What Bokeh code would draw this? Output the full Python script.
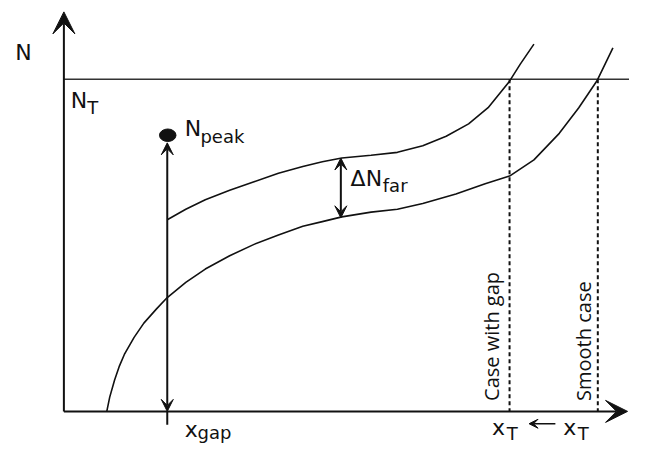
import numpy as np
from bokeh.plotting import figure
from bokeh.models import Range1d, Arrow, VeeHead
from bokeh.embed import file_html
from bokeh.resources import INLINE
from bokeh.core.properties import value

# ---- data (in picture units; y grows downward) ----
origin_x, origin_y = 65, 433
y_axis_tip = 12
x_axis_tip = 643
N_T_level = 83
x_gap_pos = 171
N_peak_level = 142
x_T_gap = 522
x_T_smooth = 612.5
far_x = 349
far_top, far_bottom = 166, 229

gap_curve_x = [171, 190, 210, 235, 260, 285, 310, 330, 350, 380, 407, 433, 457, 480, 500, 522, 533, 547]
gap_curve_y = [231, 220, 210, 200, 191, 182, 175, 170, 166, 163, 160, 153, 143, 130, 113, 85, 67, 46]

smooth_curve_x = [109, 112, 117, 122, 127, 137, 147, 160, 171, 190, 210, 235, 260, 285, 310, 330, 350,
                  380, 407, 433, 467, 497, 522, 547, 573, 593, 612, 628]
smooth_curve_y = [433, 418, 400, 385, 373, 355, 340, 325, 313, 297, 283, 269, 257, 247, 238, 233, 228,
                  223, 220, 214, 204, 193, 185, 168, 140, 113, 84, 50]

# text anchors (baselines)
main_text = ["N", "N", "N", "\u0394N", "x", "x", "x"]
main_x = [15, 72, 189, 359, 189, 504, 577]
main_y = [55, 105, 135, 188, 452, 450, 450]
sub_text = ["T", "peak", "far", "gap", "T", "T"]
sub_x = [89, 205, 392, 202, 519, 592]
sub_y = [113, 143, 195, 455, 456, 456]
side_text = ["Case with gap", "Smooth case"]
side_x = [503, 598]
side_y = [422, 422]

# ---- figure ----
p = figure(width=629, height=446, output_backend="svg", toolbar_location=None,
           x_range=Range1d(0, 645), y_range=Range1d(470, 0), min_border=0,
           x_axis_type=None, y_axis_type=None)
p.grid.visible = False
p.outline_line_color = None
p.background_fill_color = "white"

ink = "#111111"

# axes with arrow heads
p.add_layout(Arrow(end=VeeHead(size=22, fill_color=ink, line_color=ink),
                   x_start=origin_x, y_start=origin_y, x_end=origin_x, y_end=y_axis_tip,
                   line_width=2, line_color=ink))
p.add_layout(Arrow(end=VeeHead(size=22, fill_color=ink, line_color=ink),
                   x_start=origin_x, y_start=origin_y, x_end=x_axis_tip, y_end=origin_y,
                   line_width=2, line_color=ink))

# N_T level
p.segment(x0=[origin_x], y0=[N_T_level], x1=[645], y1=[N_T_level], line_width=1.6, line_color="#333333")

# curves
p.line(gap_curve_x, gap_curve_y, line_width=1.6, line_color=ink)
p.line(smooth_curve_x, smooth_curve_y, line_width=1.6, line_color=ink)

# dashed x_T lines
p.segment(x0=[x_T_gap, x_T_smooth], y0=[N_T_level, N_T_level], x1=[x_T_gap, x_T_smooth],
          y1=[origin_y, origin_y], line_width=2, line_color=ink, line_dash="4 3")

# x_gap double arrow and tick
p.segment(x0=[x_gap_pos], y0=[origin_y], x1=[x_gap_pos], y1=[447], line_width=2, line_color=ink)
p.add_layout(Arrow(start=VeeHead(size=12, fill_color=ink, line_color=ink),
                   end=VeeHead(size=12, fill_color=ink, line_color=ink),
                   x_start=x_gap_pos, y_start=origin_y, x_end=x_gap_pos, y_end=150,
                   line_width=2, line_color=ink))
p.ellipse(x=[x_gap_pos + 0.5], y=[N_peak_level], width=16.5, height=12.5,
          width_units="screen", height_units="screen", fill_color=ink, line_color=ink)

# delta N_far arrow
p.add_layout(Arrow(start=VeeHead(size=12, fill_color=ink, line_color=ink),
                   end=VeeHead(size=12, fill_color=ink, line_color=ink),
                   x_start=far_x, y_start=far_bottom, x_end=far_x, y_end=far_top,
                   line_width=2, line_color=ink))

# small arrow between x_T labels
p.add_layout(Arrow(end=VeeHead(size=9, fill_color=ink, line_color=ink),
                   x_start=569, y_start=446, x_end=542, y_end=446,
                   line_width=1.5, line_color=ink))

# texts
p.text(x=main_x, y=main_y, text=main_text, text_font=value("DejaVu Sans"),
       text_font_size="22px", text_color=ink, text_baseline="alphabetic", text_align="left")
p.text(x=sub_x, y=sub_y, text=sub_text, text_font=value("DejaVu Sans"),
       text_font_size="18px", text_color=ink, text_baseline="alphabetic", text_align="left")
p.text(x=side_x, y=side_y, text=side_text, text_font=value("Open Sans"), angle=np.pi / 2,
       text_font_size="20px", text_color=ink, text_baseline="alphabetic", text_align="left")

open("out.html", "w").write(file_html(p, INLINE))
